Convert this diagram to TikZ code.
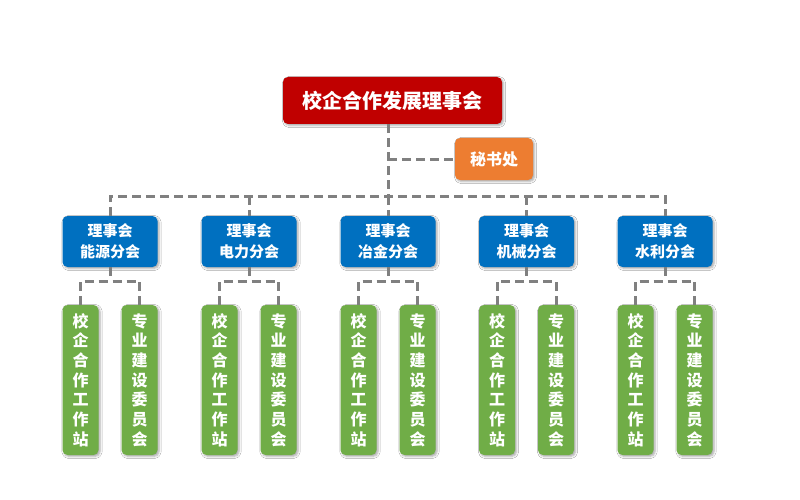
\documentclass[tikz,border=0pt]{standalone}
\usepackage{fontspec}
\setmainfont{Noto Sans CJK SC}
\usetikzlibrary{shadows.blur}
\definecolor{cred}{RGB}{192,0,0}
\definecolor{corange}{RGB}{237,125,49}
\definecolor{cblue}{RGB}{0,112,192}
\definecolor{cgreen}{RGB}{112,173,71}
\definecolor{cline}{RGB}{128,128,128}
\tikzset{
  boxbase/.style={rounded corners=5pt, text=white, font=\bfseries, align=center, inner sep=0pt,
    blur shadow={shadow xshift=1.5pt, shadow yshift=-1.5pt, shadow blur steps=4, shadow opacity=35}},
  topbox/.style={boxbase, fill=cred, minimum width=219pt, minimum height=47pt, font=\bfseries\fontsize{20pt}{24pt}\selectfont},
  secbox/.style={boxbase, fill=corange, minimum width=78pt, minimum height=42pt, font=\bfseries\fontsize{16pt}{19pt}\selectfont},
  bluebox/.style={boxbase, fill=cblue, minimum width=95pt, minimum height=51pt, font=\bfseries\fontsize{15pt}{21pt}\selectfont},
  greenbox/.style={boxbase, fill=cgreen, minimum width=36pt, minimum height=150pt, font=\bfseries\fontsize{16pt}{19.7pt}\selectfont},
  conn/.style={draw=cline, line width=3pt, dash pattern=on 9pt off 5pt}
}
\begin{document}
\begin{tikzpicture}[x=1pt,y=-1pt]
\fill[white] (0,0) rectangle (800,500);
\useasboundingbox (0,0) rectangle (800,500);
\coordinate (busY) at (0,196);
\coordinate (brY) at (0,281);
\node[topbox] (top) at (392.5,100.5) {校企合作发展理事会};
\node[secbox] (sec) at (494,159) {秘书处};
\foreach \i/\x/\name in {1/110/能源分会, 2/249/电力分会, 3/388/冶金分会, 4/526.5/机械分会, 5/665/水利分会}{
  \node[bluebox] (b\i) at (\x,241.5) {理事会\\\name};
  \node[greenbox] (gl\i) at (\x-29.5,380) {校\\企\\合\\作\\工\\作\\站};
  \node[greenbox] (gr\i) at (\x+29.5,380) {专\\业\\建\\设\\委\\员\\会};
}
\begin{scope}[on background layer/.try]
\end{scope}
% connectors
\draw[conn] (b3.north |- top.south) -- (b3.north |- busY);
\draw[conn] (b3.north |- sec.west) -- (sec.west);
\draw[conn] (b1.north) -- (b1.north |- busY) -- (b5.north |- busY) -- (b5.north);
\foreach \i in {2,3,4}{
  \draw[conn] (b\i.north |- busY) -- (b\i.north);
}
\foreach \i in {1,...,5}{
  \draw[conn] (b\i.south) -- (b\i.south |- brY);
  \draw[conn] (gl\i.north) -- (gl\i.north |- brY) -- (gr\i.north |- brY) -- (gr\i.north);
}
\end{tikzpicture}
\end{document}
